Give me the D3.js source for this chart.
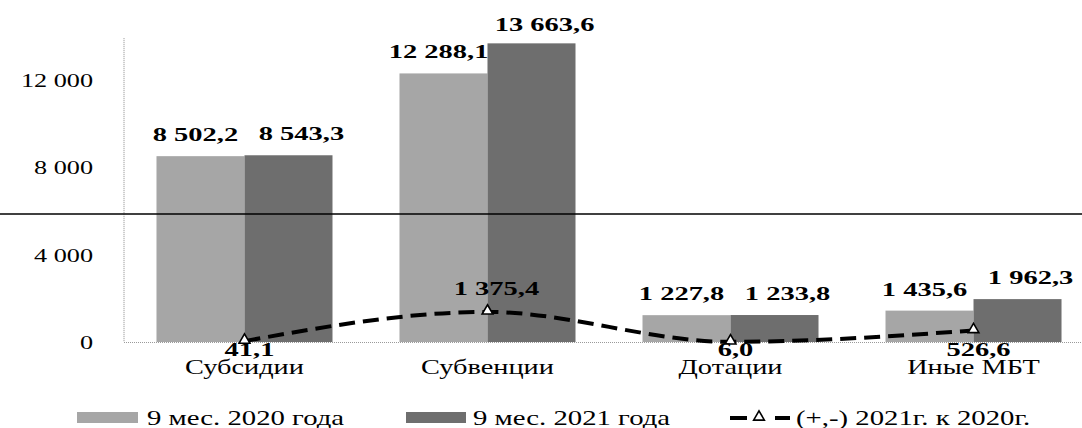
<!DOCTYPE html>
<html><head><meta charset="utf-8">
<script src="https://cdn.jsdelivr.net/npm/d3@7"></script>
<style>body{margin:0;background:#fff}svg{display:block}text{font-family:"Liberation Serif","Times New Roman",serif;fill:#000}</style>
</head><body><svg id="c" width="1082" height="428"></svg>
<script>
const categories = ["Субсидии", "Субвенции", "Дотации", "Иные МБТ"];
const series2020 = [8502.2, 12288.1, 1227.8, 1435.6];
const series2021 = [8543.3, 13663.6, 1233.8, 1962.3];
const diff = [41.1, 1375.4, 6.0, 526.6];
const seriesNames = ["9 мес. 2020 года", "9 мес. 2021 года", "(+,-) 2021г. к 2020г."];
const yTicks = [0, 4000, 8000, 12000];

const svg = d3.select("#c");
const loc = d3.formatLocale({decimal: ",", thousands: "\u00a0", grouping: [3], currency: ["", ""]});
const fInt = loc.format(",.0f"), fDec = loc.format(",.1f");

const x0 = d3.scaleBand().domain(categories).range([123, 1095]).paddingInner(0.2757).paddingOuter(0.1378);
const x1 = d3.scaleBand().domain([0, 1]).range([0, x0.bandwidth()]);
const y = d3.scaleLinear().domain([0, 14000]).range([342, 36]);
const colors = ["#a6a6a6", "#6e6e6e"];

function txt(g, x, yy, s, size, bold, anchor, sx) {
  return g.append("text").attr("transform", `translate(${x},${yy}) scale(${sx || 1.35},1)`)
    .attr("text-anchor", anchor || "middle").style("font-size", size + "px")
    .style("font-weight", bold ? "bold" : "normal").text(s);
}

// y axis labels
const yAxis = d3.axisLeft(y).tickValues(yTicks).tickSize(0).tickPadding(0).tickFormat(fInt);
const ga = svg.append("g").attr("transform", "translate(93,0)").call(yAxis);
ga.attr("font-family", null).attr("font-size", null);
ga.select(".domain").remove();
ga.selectAll("text").attr("transform", "scale(1.38,1)").attr("x", 0).attr("dy", "0.35em")
  .style("font-size", "19px").attr("fill", "#000");

// axis lines
svg.append("line").attr("x1", 124).attr("x2", 124).attr("y1", y(13900)).attr("y2", y(0))
  .attr("stroke", "#8a8a8a").attr("stroke-width", 1).attr("stroke-dasharray", "1,1");
svg.append("line").attr("x1", 124).attr("x2", 1082).attr("y1", y(0) + 0.5).attr("y2", y(0) + 0.5)
  .attr("stroke", "#9a9a9a").attr("stroke-width", 1).attr("stroke-dasharray", "1,1");

// bars
const data = categories.map((c, i) => ({c, v: [series2020[i], series2021[i]]}));
const gb = svg.append("g");
data.forEach(d => {
  d.v.forEach((v, s) => {
    gb.append("rect").attr("x", x0(d.c) + x1(s)).attr("y", y(v))
      .attr("width", x1.bandwidth()).attr("height", y(0) - y(v)).attr("fill", colors[s]);
  });
});
// horizontal scan line
svg.append("line").attr("x1", 0).attr("x2", 1082).attr("y1", 214).attr("y2", 214)
  .attr("stroke", "#000").attr("stroke-width", 1.6);

// bar labels
const gl = svg.append("g");
const dxS = [-5, 13];
data.forEach(d => {
  d.v.forEach((v, s) => {
    txt(gl, x0(d.c) + x1(s) + x1.bandwidth() / 2 + dxS[s], Math.max(y(v) - 15, 31), fDec(v), 19, true, "middle", 1.5);
  });
});

// line
const cx = c => x0(c) + x0.bandwidth() / 2;
const pts = categories.map((c, i) => [cx(c), y(diff[i])]);
svg.append("path").attr("d", d3.line().curve(d3.curveMonotoneX)(pts))
  .attr("fill", "none").attr("stroke", "#000").attr("stroke-width", 4).attr("stroke-dasharray", "16,8");
const tri = d3.symbol().type(d3.symbolTriangle).size(50);
pts.forEach(p => {
  svg.append("path").attr("d", tri()).attr("transform", `translate(${p[0]},${p[1] - 1})`)
    .attr("fill", "#fff").attr("stroke", "#000").attr("stroke-width", 1.6);
});
diff.forEach((v, i) => {
  const above = i === 1;
  txt(svg, pts[i][0] + (above ? 9 : 5), above ? pts[i][1] - 17 : 356, fDec(v), 19, true, "middle", 1.5);
});

// categories
categories.forEach(c => txt(svg, cx(c), 374, c, 21, false, "middle", 1.35));

// legend
svg.append("rect").attr("x", 77).attr("y", 412).attr("width", 61).attr("height", 11).attr("fill", colors[0]);
txt(svg, 147, 425, seriesNames[0], 21, false, "start", 1.37);
svg.append("rect").attr("x", 406).attr("y", 412).attr("width", 60).attr("height", 11).attr("fill", colors[1]);
txt(svg, 473, 425, seriesNames[1], 21, false, "start", 1.37);
svg.append("line").attr("x1", 730).attr("x2", 790).attr("y1", 418).attr("y2", 418)
  .attr("stroke", "#000").attr("stroke-width", 4).attr("stroke-dasharray", "17,28");
svg.append("path").attr("d", tri()).attr("transform", "translate(759,417)")
  .attr("fill", "#fff").attr("stroke", "#000").attr("stroke-width", 1.6);
txt(svg, 796, 425, seriesNames[2], 21, false, "start", 1.37);
</script></body></html>
